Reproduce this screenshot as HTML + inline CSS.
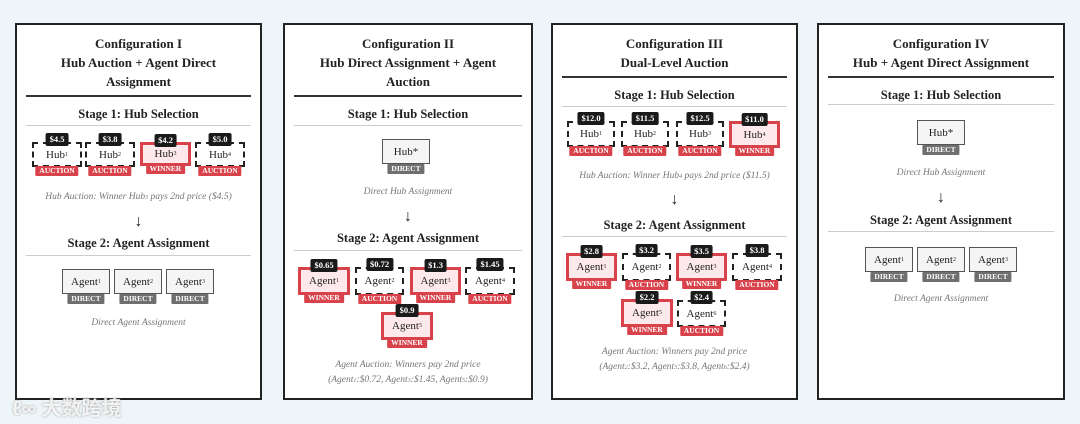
<!DOCTYPE html>
<html><head><meta charset="utf-8"><style>
body{margin:0;width:1080px;height:424px;background:#eef5f8;position:relative;overflow:hidden;font-family:"Liberation Serif",serif;color:#222}
.p{position:absolute;top:23px;height:377px;background:#fff;border:2px solid #222;box-sizing:border-box}
.t{position:absolute;left:0;right:0;text-align:center;font-weight:bold;font-size:13px;line-height:19px}
.r{position:absolute;height:2px;background:#333}
.rl{position:absolute;height:1px;background:#ccc}
.s{position:absolute;left:0;right:0;text-align:center;font-weight:bold;font-size:12.5px}
.c{position:absolute;left:0;right:0;text-align:center;font-style:italic;font-size:9.5px;color:#777;line-height:15px}
.a{position:absolute;left:0;right:0;text-align:center;font-size:16px;line-height:16px}
.n{position:absolute;box-sizing:border-box;text-align:center;font-size:11px;display:flex;align-items:center;justify-content:center}
.d{border:2px dashed #222;background:#fff}
.w{border:3px solid #d8434b;background:#fde9eb}
.i{border:1.5px solid #555;background:#f5f5f5}
.b{position:absolute;top:-11px;left:50%;transform:translateX(-50%);background:#1a1a1a;color:#fff;font-weight:bold;font-size:8.5px;padding:1px 4px;border-radius:2px;line-height:11px;white-space:nowrap}
.l{position:absolute;bottom:-11px;left:50%;transform:translateX(-50%);background:#d8434b;color:#fff;font-weight:bold;font-size:7.5px;padding:0 4px;line-height:10px;border-radius:1px;white-space:nowrap}
.g{background:#6f6f6f}
sub{font-size:6px;vertical-align:baseline}
</style></head><body>

<!-- Panel I -->
<div class="p" style="left:15px;width:247px">
<div class="t" style="top:9px">Configuration I<br>Hub Auction + Agent Direct<br>Assignment</div>
<div class="r" style="left:9px;right:9px;top:70px"></div>
<div class="s" style="top:82px">Stage 1: Hub Selection</div>
<div class="rl" style="left:9px;right:9px;top:100px"></div>
<div class="n d" style="left:15px;top:117px;width:50px;height:25px">Hub<sub>1</sub><span class="b">$4.5</span><span class="l">AUCTION</span></div>
<div class="n d" style="left:68px;top:117px;width:50px;height:25px">Hub<sub>2</sub><span class="b">$3.8</span><span class="l">AUCTION</span></div>
<div class="n w" style="left:123px;top:117px;width:51px;height:24px">Hub<sub>3</sub><span class="b">$4.2</span><span class="l">WINNER</span></div>
<div class="n d" style="left:178px;top:117px;width:50px;height:25px">Hub<sub>4</sub><span class="b">$5.0</span><span class="l">AUCTION</span></div>
<div class="c" style="top:165px">Hub Auction: Winner Hub<sub>3</sub> pays 2nd price ($4.5)</div>
<div class="a" style="top:189px">↓</div>
<div class="s" style="top:211px">Stage 2: Agent Assignment</div>
<div class="rl" style="left:9px;right:9px;top:230px"></div>
<div class="n i" style="left:45px;top:244px;width:48px;height:25px">Agent<sub>1</sub><span class="l g">DIRECT</span></div>
<div class="n i" style="left:97px;top:244px;width:48px;height:25px">Agent<sub>2</sub><span class="l g">DIRECT</span></div>
<div class="n i" style="left:149px;top:244px;width:48px;height:25px">Agent<sub>3</sub><span class="l g">DIRECT</span></div>
<div class="c" style="top:291px">Direct Agent Assignment</div>
</div>

<!-- Panel II -->
<div class="p" style="left:283px;width:250px">
<div class="t" style="top:9px">Configuration II<br>Hub Direct Assignment + Agent<br>Auction</div>
<div class="r" style="left:9px;right:9px;top:70px"></div>
<div class="s" style="top:82px">Stage 1: Hub Selection</div>
<div class="rl" style="left:9px;right:9px;top:100px"></div>
<div class="n i" style="left:97px;top:114px;width:48px;height:25px">Hub*<span class="l g">DIRECT</span></div>
<div class="c" style="top:160px">Direct Hub Assignment</div>
<div class="a" style="top:184px">↓</div>
<div class="s" style="top:206px">Stage 2: Agent Assignment</div>
<div class="rl" style="left:9px;right:9px;top:225px"></div>
<div class="n w" style="left:13px;top:242px;width:52px;height:28px">Agent<sub>1</sub><span class="b">$0.65</span><span class="l">WINNER</span></div>
<div class="n d" style="left:70px;top:242px;width:49px;height:28px">Agent<sub>2</sub><span class="b">$0.72</span><span class="l">AUCTION</span></div>
<div class="n w" style="left:125px;top:242px;width:51px;height:28px">Agent<sub>3</sub><span class="b">$1.3</span><span class="l">WINNER</span></div>
<div class="n d" style="left:180px;top:242px;width:50px;height:28px">Agent<sub>4</sub><span class="b">$1.45</span><span class="l">AUCTION</span></div>
<div class="n w" style="left:96px;top:287px;width:52px;height:28px">Agent<sub>5</sub><span class="b">$0.9</span><span class="l">WINNER</span></div>
<div class="c" style="top:333px">Agent Auction: Winners pay 2nd price<br>(Agent<sub>1</sub>:$0.72, Agent<sub>3</sub>:$1.45, Agent<sub>5</sub>:$0.9)</div>
</div>

<!-- Panel III -->
<div class="p" style="left:551px;width:247px">
<div class="t" style="top:9px">Configuration III<br>Dual-Level Auction</div>
<div class="r" style="left:9px;right:9px;top:51px"></div>
<div class="s" style="top:63px">Stage 1: Hub Selection</div>
<div class="rl" style="left:9px;right:9px;top:81px"></div>
<div class="n d" style="left:14px;top:96px;width:48px;height:26px">Hub<sub>1</sub><span class="b">$12.0</span><span class="l">AUCTION</span></div>
<div class="n d" style="left:68px;top:96px;width:48px;height:26px">Hub<sub>2</sub><span class="b">$11.5</span><span class="l">AUCTION</span></div>
<div class="n d" style="left:123px;top:96px;width:48px;height:26px">Hub<sub>3</sub><span class="b">$12.5</span><span class="l">AUCTION</span></div>
<div class="n w" style="left:176px;top:96px;width:51px;height:27px">Hub<sub>4</sub><span class="b">$11.0</span><span class="l">WINNER</span></div>
<div class="c" style="top:144px">Hub Auction: Winner Hub<sub>4</sub> pays 2nd price ($11.5)</div>
<div class="a" style="top:167px">↓</div>
<div class="s" style="top:193px">Stage 2: Agent Assignment</div>
<div class="rl" style="left:9px;right:9px;top:211px"></div>
<div class="n w" style="left:13px;top:228px;width:51px;height:28px">Agent<sub>1</sub><span class="b">$2.8</span><span class="l">WINNER</span></div>
<div class="n d" style="left:69px;top:228px;width:49px;height:28px">Agent<sub>2</sub><span class="b">$3.2</span><span class="l">AUCTION</span></div>
<div class="n w" style="left:123px;top:228px;width:51px;height:28px">Agent<sub>3</sub><span class="b">$3.5</span><span class="l">WINNER</span></div>
<div class="n d" style="left:179px;top:228px;width:50px;height:28px">Agent<sub>4</sub><span class="b">$3.8</span><span class="l">AUCTION</span></div>
<div class="n w" style="left:68px;top:274px;width:52px;height:28px">Agent<sub>5</sub><span class="b">$2.2</span><span class="l">WINNER</span></div>
<div class="n d" style="left:124px;top:275px;width:49px;height:27px">Agent<sub>6</sub><span class="b">$2.4</span><span class="l">AUCTION</span></div>
<div class="c" style="top:320px">Agent Auction: Winners pay 2nd price<br>(Agent<sub>2</sub>:$3.2, Agent<sub>5</sub>:$3.8, Agent<sub>6</sub>:$2.4)</div>
</div>

<!-- Panel IV -->
<div class="p" style="left:817px;width:248px">
<div class="t" style="top:9px">Configuration IV<br>Hub + Agent Direct Assignment</div>
<div class="r" style="left:9px;right:9px;top:51px"></div>
<div class="s" style="top:63px">Stage 1: Hub Selection</div>
<div class="rl" style="left:9px;right:9px;top:79px"></div>
<div class="n i" style="left:98px;top:95px;width:48px;height:25px">Hub*<span class="l g">DIRECT</span></div>
<div class="c" style="top:141px">Direct Hub Assignment</div>
<div class="a" style="top:165px">↓</div>
<div class="s" style="top:188px">Stage 2: Agent Assignment</div>
<div class="rl" style="left:9px;right:9px;top:206px"></div>
<div class="n i" style="left:46px;top:222px;width:48px;height:25px">Agent<sub>1</sub><span class="l g">DIRECT</span></div>
<div class="n i" style="left:98px;top:222px;width:48px;height:25px">Agent<sub>2</sub><span class="l g">DIRECT</span></div>
<div class="n i" style="left:150px;top:222px;width:48px;height:25px">Agent<sub>3</sub><span class="l g">DIRECT</span></div>
<div class="c" style="top:267px">Direct Agent Assignment</div>
</div>

<div style="position:absolute;left:12px;top:392px;font-family:'Liberation Sans','Noto Sans CJK SC',sans-serif;font-size:20px;font-weight:bold;color:rgba(255,255,255,0.85);text-shadow:0 0 2px #999">ℓ∞ 大数跨境</div>
</body></html>
